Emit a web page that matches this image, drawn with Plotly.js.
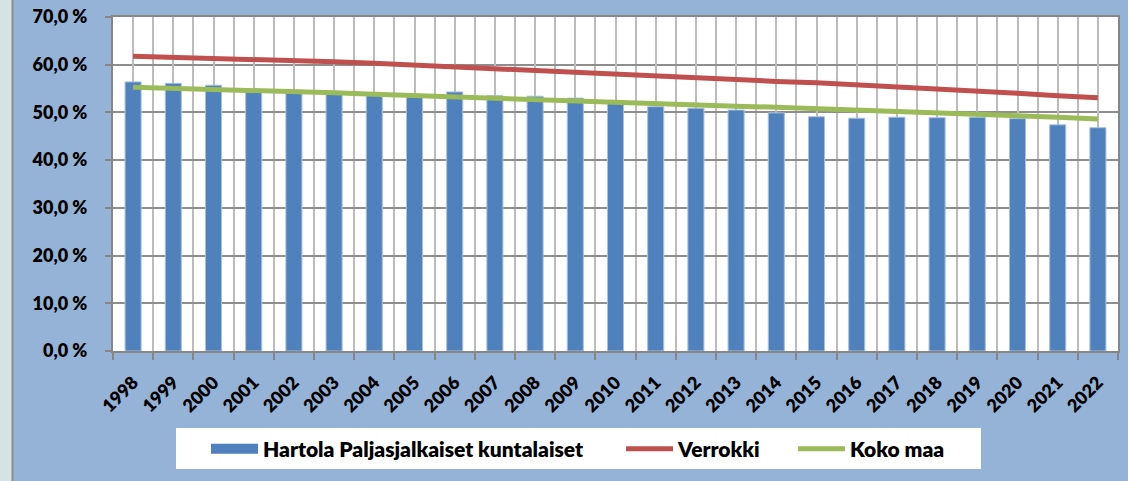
<!DOCTYPE html>
<html>
<head>
<meta charset="utf-8">
<script src="https://cdn.plot.ly/plotly-3.0.1.min.js"></script>
<style>html,body{margin:0;padding:0;background:#95b3d7;}#chart{width:1128px;height:481px;}</style>
</head>
<body>
<div id="chart"></div>
<script>
const years = ['1998','1999','2000','2001','2002','2003','2004','2005','2006','2007','2008','2009','2010','2011','2012','2013','2014','2015','2016','2017','2018','2019','2020','2021','2022'];
const hartola = [56.4,56.1,55.7,54.6,54.4,54.0,53.7,53.3,54.3,53.5,53.4,53.0,52.0,51.2,50.9,50.5,49.9,49.1,48.8,49.0,48.9,49.0,48.7,47.4,46.8];
const verrokki = [61.8,61.6,61.4,61.2,60.9,60.6,60.3,59.9,59.5,59.1,58.8,58.5,58.0,57.6,57.2,56.8,56.5,56.2,55.8,55.4,55.0,54.6,54.0,53.5,53.1];
const kokoMaa = [55.3,55.1,54.8,54.6,54.3,54.1,53.8,53.5,53.3,53.0,52.7,52.4,52.1,51.8,51.5,51.3,51.1,50.8,50.6,50.4,50.1,49.8,49.5,49.0,48.6];
const seriesNames = ['Hartola Paljasjalkaiset kuntalaiset','Verrokki','Koko maa'];
const yTickVals = [0,10,20,30,40,50,60,70];
const yTickText = ['0,0 %','10,0 %','20,0 %','30,0 %','40,0 %','50,0 %','60,0 %','70,0 %'];

const W = 1128, H = 481, ML = 113, MR = 10, MT = 17, MB = 130;
const PW = W - ML - MR, PH = H - MT - MB;
const px = x => (x - ML) / PW;
const py = y => (H - MB - y) / PH;

const FONT = 'Lato, "Open Sans", sans-serif';
const WEIGHT = 800;
const BAR_COLOR = '#4f81bd';

const traces = [
  {type:'bar', x: years, y: hartola, name: seriesNames[0], showlegend:false,
   marker:{color:BAR_COLOR, line:{color:'#a9c1e0', width:1}}},
  {type:'scatter', mode:'lines', x: years, y: verrokki, name: seriesNames[1], legend:'legend2',
   line:{color:'#c0504d', width:5}},
  {type:'scatter', mode:'lines', x: years, y: kokoMaa, name: seriesNames[2], legend:'legend3',
   line:{color:'#9bbb59', width:5}},
  // legend entry for the bar series (wide block swatch as in the original)
  {type:'scatter', mode:'lines', x:[null], y:[null], name: seriesNames[0], legend:'legend',
   line:{color:BAR_COLOR, width:12}, hoverinfo:'skip'},
  // activates the overlay axes (centre gridlines, short visible y ticks)
  {type:'scatter', x:[null], y:[null], xaxis:'x2', yaxis:'y2', showlegend:false, hoverinfo:'skip'}
];

const legendBase = {orientation:'h', bgcolor:'rgba(0,0,0,0)', borderwidth:0,
  font:{family:FONT, size:21, weight:WEIGHT, color:'#000'}, yanchor:'middle', y: py(449), xanchor:'left', itemwidth:47};

const layout = {
  width: W, height: H,
  margin:{l:ML, r:MR, t:MT, b:MB, pad:0},
  paper_bgcolor:'#95b3d7', plot_bgcolor:'#ffffff',
  bargap: 0.6,
  showlegend: true,
  xaxis:{type:'category', tickson:'boundaries', showgrid:true, gridcolor:'#bcbcbc', gridwidth:2,
    ticks:'outside', ticklen:7, tickwidth:2, tickcolor:'#868686',
    showline:true, linecolor:'#868686', linewidth:2, mirror:true,
    tickangle:-45, ticklabelstandoff:12, tickfont:{family:FONT, size:18, weight:WEIGHT, color:'#000'},
    range:[-0.5, years.length-0.5], fixedrange:true},
  xaxis2:{overlaying:'x', type:'linear', range:[-0.5, years.length-0.5], tick0:0, dtick:1,
    showgrid:true, gridcolor:'#bcbcbc', gridwidth:2, showticklabels:false, ticks:'', zeroline:false, showline:false},
  yaxis:{range:[0,70], tickmode:'array', tickvals:yTickVals, ticktext:yTickText,
    showgrid:true, gridcolor:'#8e8e8e', gridwidth:2, zeroline:false,
    ticks:'outside', ticklen:20, tickwidth:1, tickcolor:'rgba(0,0,0,0)',
    showline:true, linecolor:'#868686', linewidth:2, mirror:true,
    tickfont:{family:FONT, size:18, weight:WEIGHT, color:'#000'}, fixedrange:true},
  yaxis2:{overlaying:'y', matches:'y', side:'left', range:[0,70], tickmode:'array', tickvals:yTickVals,
    showticklabels:false, showgrid:false, zeroline:false, showline:false,
    ticks:'outside', ticklen:7, tickwidth:2, tickcolor:'#868686', fixedrange:true},
  legend: Object.assign({}, legendBase, {x: px(206)}),
  legend2: Object.assign({}, legendBase, {x: px(621)}),
  legend3: Object.assign({}, legendBase, {x: px(793)}),
  shapes:[
    {type:'rect', xref:'paper', yref:'paper', x0:px(0), x1:px(12), y0:py(H), y1:py(0), fillcolor:'#d3e4e2', line:{width:0}, layer:'below'},
    {type:'line', xref:'paper', yref:'paper', x0:px(12.5), x1:px(12.5), y0:py(H), y1:py(0), line:{color:'#8c8c8c', width:2}, layer:'below'},
    {type:'rect', xref:'paper', yref:'paper', x0:px(176), x1:px(981), y0:py(469), y1:py(428), fillcolor:'#ffffff', line:{width:0}, layer:'below'}
  ]
};

Plotly.newPlot('chart', traces, layout, {displayModeBar:false, staticPlot:true});
</script>
</body>
</html>
